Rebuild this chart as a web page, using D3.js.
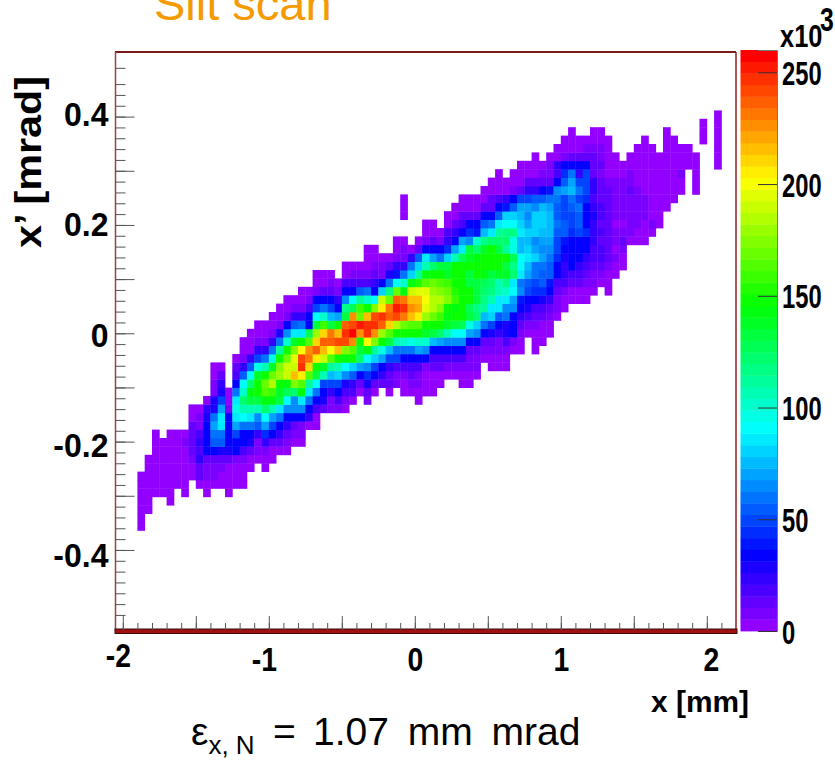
<!DOCTYPE html>
<html>
<head>
<meta charset="utf-8">
<script src="https://cdn.jsdelivr.net/npm/d3@7"></script>
<style>
  html, body { margin: 0; padding: 0; background: #fff; }
  text { font-family: "Liberation Sans", Arial, sans-serif; }
  .ticklabel text { font-weight: bold; font-size: 33px; fill: #000; }
</style>
</head>
<body>
<div id="my_dataviz"></div>
<script>
// histogram bins, counts in units of 10^3, 0 = empty bin
var xBinLow = -2.05, xBinWidth = 0.05;
var yBinLow = -0.55, yBinWidth = 1.07 / 69;
var firstRow = 12;

var rowFirstCol = [3,3,3,3,3,3,3,4,4,5,5,5,10,10,10,12,13,13,13,13,16,17,17,18,19,21,22,23,25,27,27,31,34,34,38,42,42,39,39,39,50,51,52,55,57,60,61,62,80,82];

var rowCounts = [
  [3],
  [3],
  [3,3],
  [3,3,0,0,3],
  [3,3,3,3,3,0,3,0,0,3,0,0,3],
  [3,3,3,3,3,3,3,0,5,3,3,3,3,3,3],
  [3,3,3,3,3,5,5,5,12,8,8,5,5,3,3],
  [3,3,3,5,5,5,5,15,10,10,10,5,3,3,3,0,3],
  [3,3,3,5,5,5,8,25,15,15,15,12,10,6,5,3,3,3],
  [3,3,5,5,5,12,20,33,33,30,28,33,18,15,10,8,5,3,3],
  [3,3,3,5,6,15,22,33,52,52,33,33,33,30,10,25,15,12,8,5,3],
  [3,0,3,3,5,15,20,33,60,60,33,50,33,33,25,45,33,25,15,10,8],
  [12,8,33,70,85,33,70,60,58,55,68,50,33,22,12,8,3,3],
  [5,8,30,60,88,33,88,90,85,65,90,68,60,33,33,33,22,5],
  [3,5,25,30,70,8,95,105,105,105,120,105,85,65,65,65,33,20,15,8,10,5],
  [3,28,50,5,88,120,130,135,145,145,130,90,65,88,60,33,30,10,18,10,5,0,8,0,0,0,0,0,0,3],
  [10,28,3,60,100,145,150,165,160,140,125,120,145,85,60,33,22,33,18,18,5,15,3,0,3,0,3,3,3,3,3],
  [8,25,0,33,90,120,148,170,185,150,145,175,165,110,90,50,50,50,30,22,12,28,15,12,12,10,5,8,8,5,5,3,0,0,3,3],
  [5,15,0,20,55,92,140,148,170,180,190,215,205,165,130,108,75,78,65,55,33,45,33,25,12,10,10,12,8,5,5,5,3,3,3,3,3],
  [3,5,0,12,25,55,95,105,140,175,190,190,245,210,150,140,110,105,90,78,70,65,50,33,22,20,18,18,18,10,15,15,8,10,10,8,10,0,3,3,3],
  [3,8,25,50,60,95,150,170,195,240,230,205,190,165,148,145,150,120,90,80,70,50,50,35,35,33,33,20,20,20,18,18,10,10,5,5,3,3],
  [3,5,25,25,60,110,148,175,200,225,235,215,200,215,175,165,130,145,110,95,75,62,62,62,70,65,33,33,33,33,33,15,15,8,8,8,8,5,3,0,3],
  [3,5,8,8,25,60,100,140,148,165,210,235,235,240,240,225,150,200,175,148,130,105,100,95,100,100,75,70,65,65,65,33,35,15,15,10,18,8,5,0,3,3],
  [3,5,5,8,30,65,88,88,125,180,210,230,215,245,255,225,248,225,180,165,148,148,148,148,140,130,120,105,90,90,70,65,33,30,22,30,33,8,5,5,5,5],
  [3,3,5,8,33,55,60,33,135,160,130,150,235,240,250,248,245,235,212,185,170,165,165,150,148,148,140,130,125,95,78,60,48,33,30,33,12,8,8,5,5],
  [3,5,8,22,25,33,90,100,75,70,135,225,170,215,240,245,235,240,230,215,205,180,170,160,145,148,148,130,120,75,78,55,60,33,22,18,12,12,8,3],
  [3,5,8,10,20,50,60,50,33,115,125,160,148,175,205,232,250,245,225,220,195,185,175,150,145,148,125,115,110,88,88,65,65,33,30,20,20,12,8,3],
  [3,3,5,8,33,33,33,22,65,90,110,100,90,190,170,235,230,215,215,200,185,185,175,160,148,148,130,115,105,88,85,70,40,33,33,30,22,8,3,3,3,3],
  [3,5,8,12,15,10,33,33,55,60,33,80,115,170,145,190,195,195,180,175,170,155,148,148,130,120,115,105,100,90,65,50,45,45,33,15,8,5,3,3,3,0,3],
  [3,3,8,3,18,18,18,18,22,33,60,90,100,145,155,165,170,165,160,150,148,130,130,125,120,105,115,85,62,55,50,55,40,18,18,15,15,10,8,3,3],
  [3,3,3,0,3,8,8,10,12,10,30,40,60,80,110,145,150,150,140,148,148,130,148,145,130,140,140,120,85,70,60,55,55,33,22,20,18,12,10,8,5,3],
  [3,5,5,5,8,10,15,22,25,60,80,105,120,130,130,148,148,148,150,148,148,150,135,118,90,75,62,60,55,33,25,33,25,18,15,12,10,5,3],
  [3,3,3,5,8,10,22,55,85,70,60,78,105,125,140,145,148,148,148,150,125,92,85,78,70,60,45,30,33,33,25,20,18,12,8,3],
  [3,3,0,0,3,8,5,12,33,33,33,45,70,85,130,120,140,148,130,110,95,75,78,70,65,65,50,33,33,33,33,20,18,12,5,8],
  [3,3,0,3,10,15,8,25,33,70,65,100,115,120,120,120,95,75,75,65,70,70,50,40,33,33,33,25,15,15,10,12,3,3,3],
  [3,5,3,18,22,33,45,40,75,88,110,115,115,88,78,78,75,75,55,55,45,50,45,22,18,15,10,8,8,5,5,3],
  [3,3,0,5,15,18,33,33,55,60,88,90,90,80,70,78,78,75,60,55,48,55,33,22,12,12,5,5,8,8,5,8,3],
  [3,0,0,0,0,0,3,5,12,12,15,33,33,55,78,80,75,65,78,80,75,55,50,50,55,33,30,18,12,10,10,8,8,8,5,3],
  [3,0,0,0,0,0,0,3,5,5,5,12,15,33,40,55,68,72,65,75,70,55,50,55,60,33,25,18,12,10,10,8,8,8,5,3,3],
  [3,0,0,0,0,0,0,0,3,3,3,3,12,18,25,33,50,50,55,55,60,62,50,60,50,45,18,15,12,10,10,10,10,8,5,5,3,3],
  [3,5,5,5,8,15,22,25,33,40,65,70,75,60,50,22,15,12,10,10,12,10,5,5,5,3,3,3,0,3],
  [3,3,3,5,5,15,15,15,15,33,55,70,50,50,22,12,8,8,8,8,5,5,5,3,3,5,5,0,3],
  [3,0,3,3,5,5,8,8,18,45,60,25,50,15,10,5,5,5,8,5,5,5,5,5,5,8,0,3],
  [3,3,3,3,8,25,33,33,33,33,15,12,5,3,3,3,3,3,3,3,3,3,3,3,3,0,0,3],
  [3,0,3,5,8,12,15,15,12,10,3,3,0,3,3,3,3,3,3,3,3,3,3,0,0,3],
  [3,5,5,3,8,10,10,3,0,0,0,3,3,3,0,3,3,3,3,0,0,0,3],
  [3,3,3,3,3,3,3,0,0,0,0,3,0,0,3,3,0,0,0,3,0,3],
  [3,0,0,3,3,0,0,0,0,0,0,0,0,3,0,0,0,0,3,0,3],
  [3,0,3],
  [3]
];

var colorLevels = 50, colorMax = 260;

var xTickValues = [-2, -1, 0, 1, 2];
var xTickLabels = ["-2", "-1", "0", "1", "2"];
var yTickValues = [-0.4, -0.2, 0, 0.2, 0.4];
var yTickLabels = ["-0.4", "-0.2", "0", "0.2", "0.4"];
var zTickValues = [0, 50, 100, 150, 200, 250];
var zTickLabels = ["0", "50", "100", "150", "200", "250"];

var width = 835, height = 761;
var margin = {top: 51.6, right: 99, bottom: 130, left: 115.5};

var svg = d3.select("#my_dataviz")
  .append("svg")
    .attr("width", width)
    .attr("height", height)
    .style("display", "block");

var x = d3.scaleLinear().domain([-2.05, 2.2]).range([margin.left, width - margin.right]);
var y = d3.scaleLinear().domain([-0.55, 0.52]).range([631.2, margin.top]);
var z = d3.scaleLinear().domain([0, colorMax]).range([631, 50]);

// ROOT "pretty" palette: violet to red, fixed saturation and lightness
var palette = d3.range(colorLevels).map(function(i) {
  var hue = i == colorLevels - 1 ? 0 : 280 - (i + 1) * 5.6;
  return d3.hsl(hue, 1, 0.5).formatHex();
});
var color = d3.scaleQuantize().domain([0, colorMax]).range(palette);

var cells = [];
rowCounts.forEach(function(row, r) {
  row.forEach(function(v, i) {
    if (v > 0) cells.push({row: r + firstRow, col: rowFirstCol[r] + i, value: v});
  });
});

svg.append("g").selectAll("rect")
  .data(cells)
  .enter()
  .append("rect")
    .attr("x", function(d) { return x(xBinLow + d.col * xBinWidth); })
    .attr("y", function(d) { return y(yBinLow + (d.row + 1) * yBinWidth); })
    .attr("width", x(xBinWidth) - x(0) + 0.4)
    .attr("height", y(0) - y(yBinWidth) + 0.4)
    .attr("fill", function(d) { return color(d.value); });

// frame
svg.append("line").attr("x1", 115).attr("x2", 736).attr("y1", 52).attr("y2", 52)
  .attr("stroke", "#7a1a1a").attr("stroke-width", 2);
svg.append("line").attr("x1", 115.5).attr("x2", 115.5).attr("y1", 52).attr("y2", 631)
  .attr("stroke", "#a04040").attr("stroke-width", 1.5);
svg.append("line").attr("x1", 736).attr("x2", 736).attr("y1", 52).attr("y2", 631)
  .attr("stroke", "#8f1f1f").attr("stroke-width", 1.5);
svg.append("rect").attr("x", 115).attr("y", 629).attr("width", 622).attr("height", 4.5)
  .attr("fill", "#a01010").attr("stroke", "#3a0a0a").attr("stroke-width", 1);

// axes, ticks point into the frame
var squeeze = 0.86, ySqueeze = 0.97;
var xMinor = svg.append("g")
    .attr("transform", "translate(0,630)")
    .call(d3.axisBottom(x).tickValues(d3.range(-20, 22, 1).map(function(d) { return d / 10; })).tickSize(-7).tickFormat(""));
var xMajor = svg.append("g")
    .attr("class", "ticklabel")
    .attr("transform", "translate(0,630)")
    .call(d3.axisBottom(x).tickValues(d3.range(-4, 5).map(function(d) { return d / 2; })).tickSize(-14)
      .tickFormat(function(d) { var i = xTickValues.indexOf(d); return i < 0 ? "" : xTickLabels[i]; }));
xMajor.selectAll("text")
    .attr("y", function(d) { return d == -2 ? 37 : 41; })
    .attr("dy", 0)
    .attr("x", function(d) { return (d < 0 ? -5 : (d == 2 ? 4 : 0)) / squeeze; })
    .attr("transform", "scale(" + squeeze + ",1)");

var yMinor = svg.append("g")
    .attr("transform", "translate(115.5,0)")
    .call(d3.axisLeft(y).tickValues(d3.range(-26, 24, 1).map(function(d) { return d / 50; }).concat([0.49])).tickSize(-10).tickFormat(""));
var yMajor = svg.append("g")
    .attr("class", "ticklabel")
    .attr("transform", "translate(115.5,0)")
    .call(d3.axisLeft(y).tickValues(d3.range(-4, 5).map(function(d) { return d / 10; })).tickSize(-19)
      .tickFormat(function(d) { var i = yTickValues.indexOf(d); return i < 0 ? "" : yTickLabels[i]; }));
yMajor.selectAll("text")
    .attr("x", -7 / ySqueeze)
    .attr("dy", function(d) { return 12 + 1 - d * 10; })
    .attr("transform", "scale(" + ySqueeze + ",1)");

[xMinor, xMajor, yMinor, yMajor].forEach(function(g) {
  g.select(".domain").remove();
  g.selectAll("line").attr("stroke", "#555").attr("stroke-width", 1);
});

// colour bar
svg.append("g").selectAll("rect")
  .data(palette)
  .enter()
  .append("rect")
    .attr("x", 740.5)
    .attr("width", 36.5)
    .attr("y", function(d, i) { return z((i + 1) * colorMax / colorLevels); })
    .attr("height", z(0) - z(colorMax / colorLevels) + 0.4)
    .attr("fill", function(d) { return d; });

var zSqueeze = 0.72;
var zAxis = svg.append("g")
    .attr("class", "ticklabel")
    .attr("transform", "translate(777,0)")
    .call(d3.axisRight(z).tickValues(zTickValues).tickSize(-19)
      .tickFormat(function(d) { return zTickLabels[zTickValues.indexOf(d)]; }));
zAxis.select(".domain").attr("stroke", "#777").attr("fill", "none");
zAxis.selectAll("line").attr("stroke", "#333");
zAxis.selectAll("text")
    .attr("x", 5 / zSqueeze)
    .attr("dy", 12)
    .attr("transform", "scale(" + zSqueeze + ",1)");

// labels
svg.append("text").attr("transform", "translate(780,47) scale(0.82,1)")
    .attr("font-weight", "bold").attr("font-size", 31)
    .text("x10");
svg.append("text").attr("transform", "translate(820,31) scale(0.75,1)")
    .attr("font-weight", "bold").attr("font-size", 33)
    .text("3");

svg.append("text").attr("x", 154).attr("y", 20)
    .attr("font-size", 47).attr("fill", "#f59a00")
    .text("Slit scan");

svg.append("text")
    .attr("transform", "translate(40.5,248) rotate(-90)")
    .attr("font-weight", "bold").attr("font-size", 37)
    .attr("textLength", 172).attr("lengthAdjust", "spacingAndGlyphs")
    .text("x’ [mrad]");

svg.append("text").attr("x", 651).attr("y", 712)
    .attr("font-weight", "bold").attr("font-size", 30)
    .attr("textLength", 98).attr("lengthAdjust", "spacingAndGlyphs")
    .text("x [mm]");

var emittance = svg.append("text").attr("x", 191).attr("y", 745).attr("font-size", 39);
emittance.append("tspan").text("ε");
emittance.append("tspan").attr("dy", 9).attr("font-size", 26).text("x, N");
emittance.append("tspan").attr("dy", -9).attr("x", 273).text("=");
emittance.append("tspan").attr("x", 313).attr("word-spacing", 8).text("1.07 mm mrad");
</script>
</body>
</html>
